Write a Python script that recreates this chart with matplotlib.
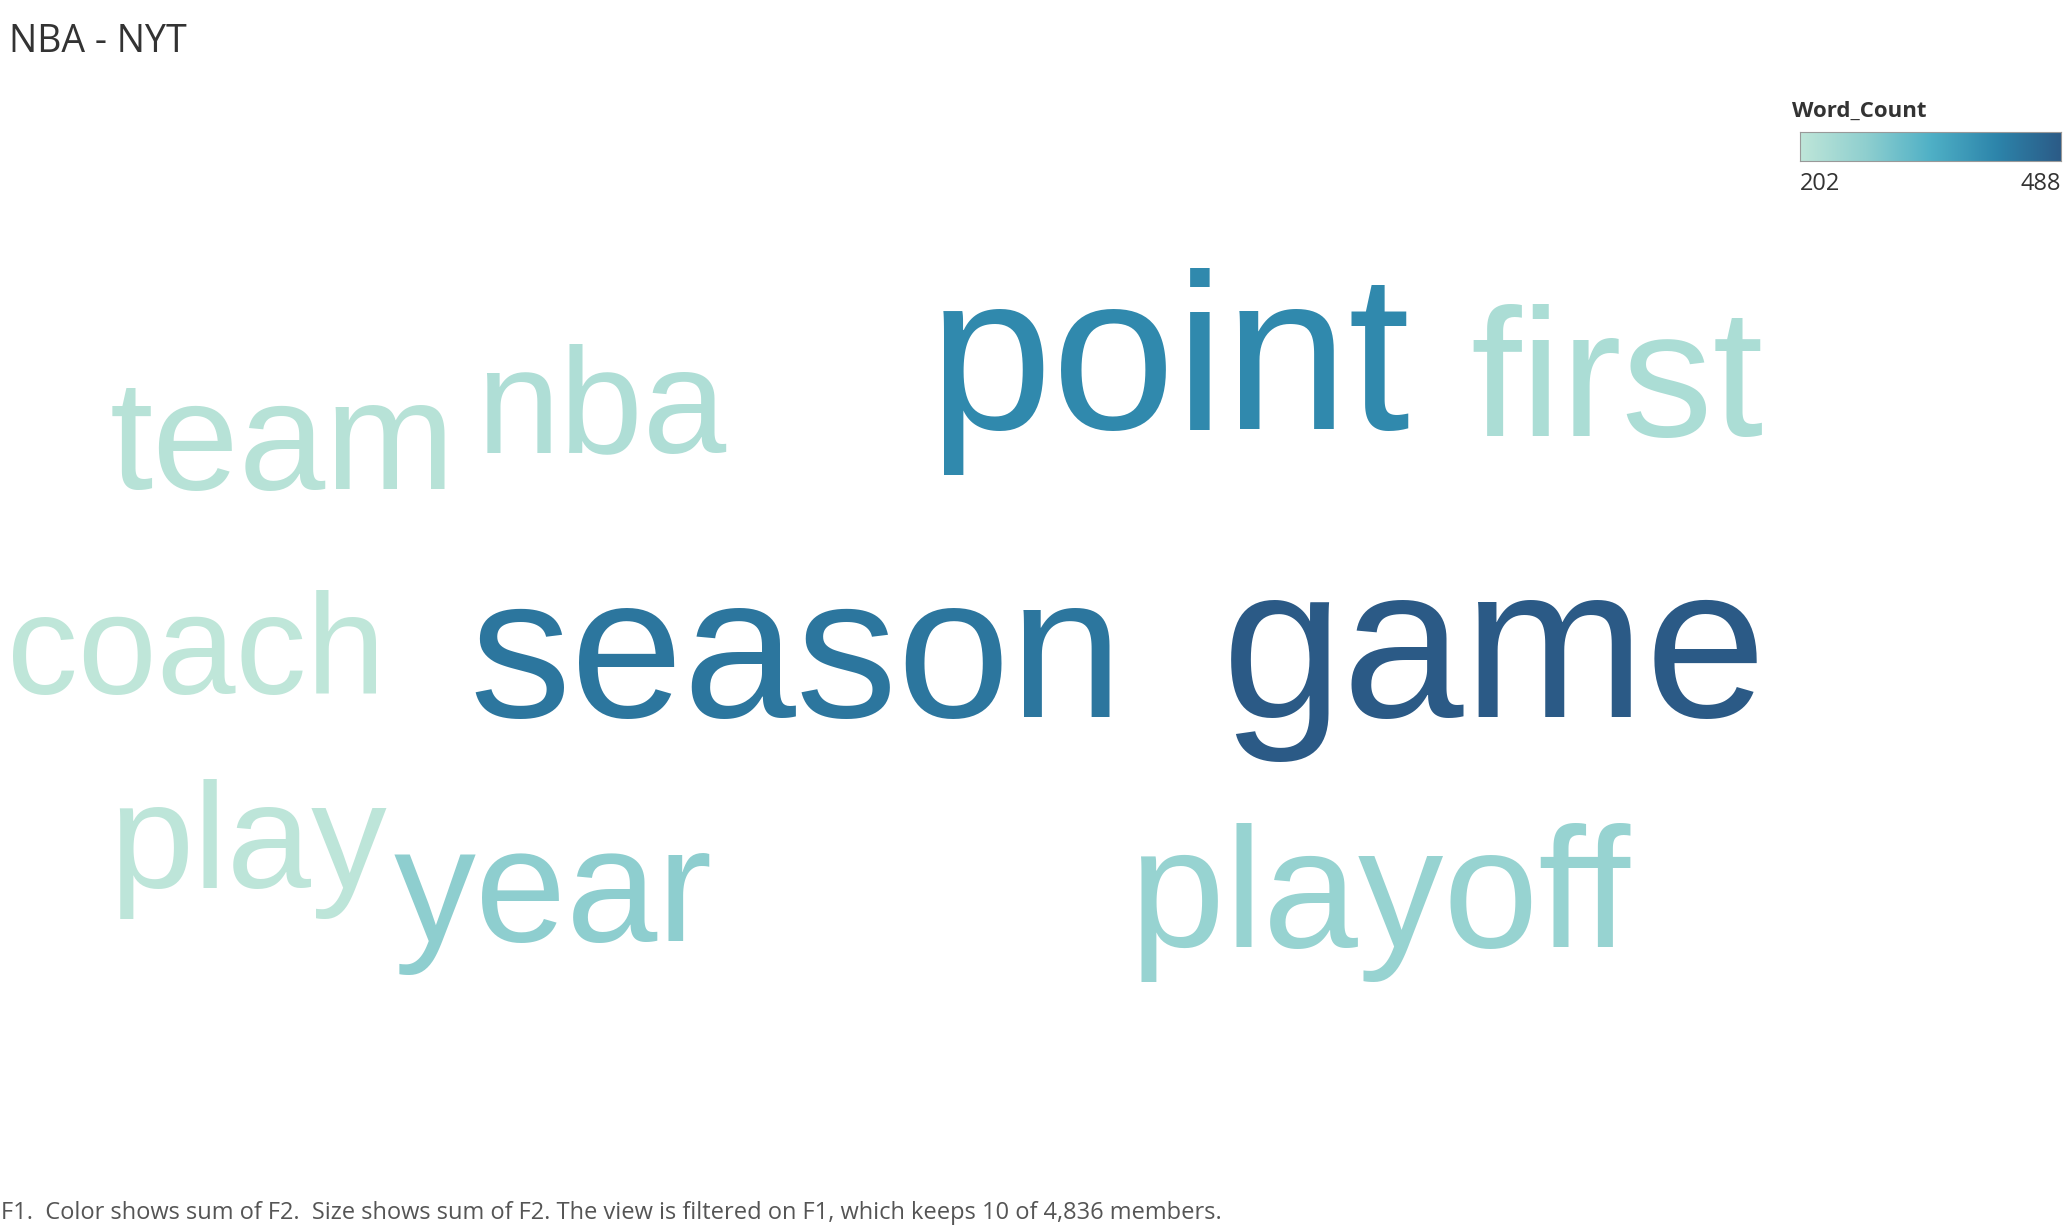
import numpy as np
import matplotlib.pyplot as plt
from matplotlib.colors import LinearSegmentedColormap

# word cloud data (F1 = word, F2 = count)
words = ["game", "season", "point", "year", "playoff", "first", "nba", "team", "play", "coach"]
counts = [488, 440, 410, 275, 262, 232, 226, 215, 206, 202]

# layout (reference coords on a 1568 x 931 grid, baseline-left) and font sizes
pos_x = [925, 355, 703, 298, 855, 1113, 360, 83, 83, 5]
pos_y = [543, 543, 325, 712, 717, 330, 342, 370, 672, 525]
sizes = [157, 146, 160, 118, 123, 131, 108, 112, 109, 102]

W, H = 1568.0, 931.0
cmap = LinearSegmentedColormap.from_list(
    "blueteal", ["#bfe6d9", "#8fcfcf", "#4fb0c6", "#2d85ab", "#2b5a86"])
vmin, vmax = 202, 488

fig = plt.figure(figsize=(20.72, 12.30), dpi=100)
fig.patch.set_facecolor("white")

fig.text(7 / W, 1 - 32 / H, "NBA - NYT", fontsize=27, color="#333333",
         family="Open Sans", va="center", ha="left")

for w, c, x, y, s in zip(words, counts, pos_x, pos_y, sizes):
    fig.text(x / W, 1 - y / H, w, fontsize=s, family="Liberation Sans",
             color=cmap((c - vmin) / (vmax - vmin)), ha="left", va="baseline")

# colour legend
fig.text(1356 / W, 1 - 84 / H, "Word_Count", fontsize=16, fontweight="bold",
         color="#333333", family="Open Sans", va="center", ha="left")
cax = fig.add_axes([1362 / W, 1 - 122 / H, 198 / W, 22 / H])
cax.imshow(np.linspace(0, 1, 256)[None, :], aspect="auto", cmap=cmap)
cax.set_xticks([])
cax.set_yticks([])
for sp in cax.spines.values():
    sp.set_color("#999999")
fig.text(1362 / W, 1 - 139 / H, str(vmin), fontsize=17, color="#333333",
         family="Open Sans", va="center", ha="left")
fig.text(1560 / W, 1 - 139 / H, str(vmax), fontsize=17, color="#333333",
         family="Open Sans", va="center", ha="right")

fig.text(0.5 / W, 1 - 918 / H,
         "F1.  Color shows sum of F2.  Size shows sum of F2. The view is filtered on F1, which keeps 10 of 4,836 members.",
         fontsize=17, color="#555555", family="Open Sans", va="center", ha="left")

fig.savefig("out.png", dpi=100)
